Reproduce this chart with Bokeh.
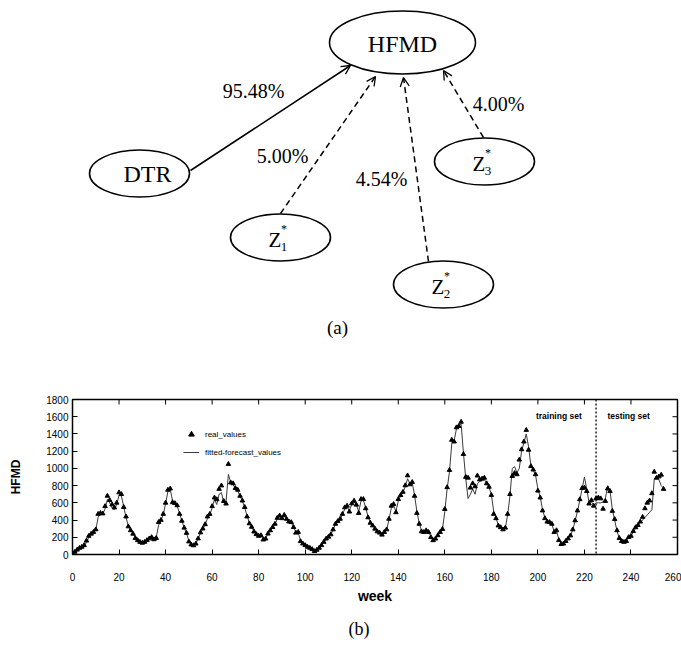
from bokeh.plotting import figure
from bokeh.models import (Arrow, OpenHead, Label, Span, Legend, LegendItem,
                          FixedTicker, Range1d, Title)
from bokeh.layouts import column
from bokeh.embed import file_html
from bokeh.resources import INLINE
from bokeh.core.properties import value

# ---------------- data ----------------
node_names = ["HFMD", "DTR", "Z", "Z", "Z"]
z_subscripts = ["1", "2", "3"]
edge_labels = ["95.48%", "5.00%", "4.54%", "4.00%"]

real_values = [
    10, 30, 55, 75, 88, 107, 160, 215, 240, 260,
    290, 470, 480, 475, 560, 680, 630, 580, 545, 600,
    720, 700, 550, 440, 325, 280, 240, 190, 165, 145,
    135, 145, 165, 185, 200, 175, 190, 375, 400, 470,
    600, 750, 765, 605, 595, 570, 470, 390, 310, 250,
    150, 115, 105, 125, 185, 255, 300, 350, 440, 470,
    560, 660, 640, 760, 800, 620, 590, 1050, 835, 825,
    770, 750, 680, 625, 550, 440, 360, 320, 265, 235,
    215, 222, 172, 183, 241, 279, 317, 355, 424, 451,
    420, 458, 413, 382, 374, 317, 252, 260, 153, 126,
    107, 88, 76, 61, 38, 53, 76, 107, 145, 183,
    205, 233, 290, 355, 386, 413, 470, 546, 565, 497,
    592, 623, 577, 481, 642, 642, 535, 430, 367, 336,
    298, 267, 252, 229, 260, 290, 413, 565, 584, 489,
    642, 688, 726, 802, 917, 813, 840, 680, 481, 355,
    267, 260, 279, 260, 200, 164, 183, 222, 260, 295,
    527, 780, 980, 1330, 1310, 1475, 1490, 1540, 1165, 900,
    890, 775, 825, 790, 915, 870, 880, 890, 825, 785,
    690, 470, 420, 335, 315, 290, 310, 470, 700, 910,
    945, 930, 1100, 1220, 1310, 1445, 1215, 1025, 985, 930,
    740, 660, 510, 420, 380, 375, 355, 260, 280, 165,
    120, 125, 155, 185, 220, 290, 395, 510, 640, 770,
    775, 735, 590, 630, 565, 650, 660, 650, 530, 620,
    765, 735, 505, 410, 280, 190, 155, 145, 155, 200,
    215, 270, 315, 340, 380, 435, 535, 600, 625, 710,
    960, 890, 905, 925, 760,
]

fitted_values = [
    5, 20, 40, 65, 80, 100, 140, 200, 235, 255,
    280, 430, 480, 470, 530, 640, 600, 540, 520, 580,
    690, 680, 560, 430, 330, 285, 245, 195, 170, 150,
    140, 148, 165, 180, 195, 180, 200, 340, 395, 460,
    590, 730, 760, 620, 590, 560, 480, 390, 310, 245,
    160, 120, 110, 130, 180, 250, 295, 345, 420, 460,
    540, 640, 580, 700, 720, 600, 620, 930, 840, 810,
    770, 740, 680, 620, 545, 450, 370, 320, 270, 235,
    215, 215, 185, 190, 235, 275, 315, 350, 410, 440,
    425, 440, 415, 385, 370, 320, 260, 250, 165, 130,
    110, 90, 78, 62, 45, 55, 75, 105, 140, 180,
    205, 235, 285, 350, 380, 410, 460, 530, 555, 510,
    580, 610, 575, 500, 620, 630, 545, 440, 375, 335,
    300, 270, 255, 235, 255, 290, 400, 540, 570, 500,
    620, 680, 720, 790, 880, 820, 830, 690, 500, 365,
    275, 262, 275, 262, 210, 170, 185, 220, 258, 290,
    500, 760, 960, 1290, 1320, 1460, 1490, 1520, 1180, 880,
    650, 700, 760, 700, 820, 850, 860, 870, 830, 780,
    700, 500, 420, 345, 318, 295, 305, 460, 680, 1000,
    1020, 950, 1000, 1200, 1300, 1400, 1250, 1030, 980, 920,
    760, 670, 520, 425, 385, 375, 350, 270, 275, 175,
    130, 128, 155, 185, 220, 285, 390, 500, 630, 760,
    900, 760, 600, 610, 570, 600, 600, 600, 610, 650,
    800, 740, 520, 400, 270, 190, 170, 160, 165, 195,
    215, 260, 305, 340, 370, 400, 430, 460, 490, 520,
    870, 905, 870, 800, 770,
]

weeks = list(range(len(real_values)))
x_tick_values = [0, 20, 40, 60, 80, 100, 120, 140, 160, 180, 200, 220, 240, 260]
y_tick_values = [0, 200, 400, 600, 800, 1000, 1200, 1400, 1600, 1800]
split_week = 225

# ---------------- layout constants ----------------
SERIF = value("Liberation Serif")
PAGE_W = 681
BL, BR = 72, 4          # shared left/right borders -> identical frames
H1 = 352                # diagram panel height
H2 = 296                # chart panel height

def P(X, Y):
    """page pixel -> diagram data coords"""
    return X, H1 - Y

# ellipse centres / sizes (page px)
ell_cx = [402, 139, 280, 443, 484]
ell_cy = [42, 173, 237, 284, 161]
ell_w = [146, 100, 100, 100, 100]
ell_h = [63, 47, 47, 47, 47]

p1 = figure(width=PAGE_W, height=H1, x_range=Range1d(BL, PAGE_W - BR), y_range=Range1d(0, H1),
            x_axis_location=None, y_axis_location=None,
            output_backend="svg", toolbar_location=None,
            min_border_left=BL, min_border_right=BR, min_border_top=0, min_border_bottom=0)
p1.grid.visible = False
p1.outline_line_color = None

ex = [P(x, y)[0] for x, y in zip(ell_cx, ell_cy)]
ey = [P(x, y)[1] for x, y in zip(ell_cx, ell_cy)]
p1.ellipse(x=ex, y=ey, width=ell_w, height=ell_h, fill_color="white",
           line_color="black", line_width=1.6)

big_x = [P(402, 43)[0], P(147, 173)[0]]
big_y = [P(402, 43)[1], P(147, 173)[1]]
p1.text(x=big_x, y=big_y, text=node_names[:2], text_font=SERIF, text_font_size="24px",
        text_align="center", text_baseline="middle", text_color="black")

for i in range(3):
    cx, cy = ell_cx[2 + i], ell_cy[2 + i]
    zx, zy = P(cx - 5.5, cy + 2)
    sx, sy = P(cx + 3.5, cy - 8.5)
    bx, by = P(cx + 3.5, cy + 9.5)
    p1.text(x=[zx], y=[zy], text=[node_names[2 + i]], text_font=SERIF, text_font_size="21px",
            text_align="center", text_baseline="middle", text_color="black")
    p1.text(x=[sx], y=[sy], text=["*"], text_font=SERIF, text_font_size="12px",
            text_align="center", text_baseline="middle", text_color="black")
    p1.text(x=[bx], y=[by], text=[z_subscripts[i]], text_font=SERIF, text_font_size="13px",
            text_align="center", text_baseline="middle", text_color="black")

arrows = [((190, 170), (350, 65), "solid"),
          ((280, 213), (375, 76), "6 4"),
          ((428, 261), (403, 77), "6 4"),
          ((483, 137), (443, 70), "6 4")]
for (s, e, dash) in arrows:
    xs, ys = P(*s)
    xe, ye = P(*e)
    p1.add_layout(Arrow(end=OpenHead(size=9, line_width=1.3, line_color="black"),
                        x_start=xs, y_start=ys, x_end=xe, y_end=ye,
                        line_width=1.5, line_color="black", line_dash=dash))

lab_pos = [(253, 90), (282, 155), (381, 178), (498, 103)]
p1.text(x=[P(*q)[0] for q in lab_pos], y=[P(*q)[1] for q in lab_pos], text=edge_labels,
        text_font=SERIF, text_font_size="20px", text_align="center",
        text_baseline="middle", text_color="black")

ax, ay = P(337, 327)
p1.text(x=[ax], y=[ay], text=["(a)"], text_font=SERIF, text_font_size="19px",
        text_align="center", text_baseline="middle", text_color="black")

# ---------------- chart (b) ----------------
FRAME_TOP, FRAME_BOTTOM = 399, 555
p2 = figure(width=PAGE_W, height=H2, x_range=Range1d(0, 260), y_range=Range1d(0, 1800),
            output_backend="svg", toolbar_location=None,
            min_border_left=BL, min_border_right=BR,
            min_border_top=FRAME_TOP - H1, min_border_bottom=H1 + H2 - FRAME_BOTTOM)
p2.grid.visible = False
p2.outline_line_color = "black"
p2.outline_line_width = 1.5

for ax_ in (p2.xaxis[0], p2.yaxis[0]):
    ax_.major_tick_in = 5
    ax_.major_tick_out = 0
    ax_.minor_tick_in = 0
    ax_.minor_tick_out = 0
    ax_.axis_line_color = None
    ax_.major_tick_line_color = "black"
    ax_.major_label_text_font = "Liberation Sans"
    ax_.major_label_text_font_size = "10px"
    ax_.major_label_text_color = "black"
    ax_.axis_label_text_font = "Liberation Sans"
    ax_.axis_label_text_font_style = "bold"
    ax_.axis_label_text_color = "black"

p2.xaxis[0].ticker = FixedTicker(ticks=x_tick_values)
p2.yaxis[0].ticker = FixedTicker(ticks=y_tick_values)
p2.xaxis[0].axis_label = "week"
p2.xaxis[0].axis_label_text_font_size = "14px"
p2.xaxis[0].major_label_standoff = 18
p2.xaxis[0].axis_label_standoff = 4
p2.yaxis[0].axis_label = "HFMD"
p2.yaxis[0].axis_label_text_font_size = "12px"
p2.yaxis[0].major_label_standoff = 4
p2.yaxis[0].axis_label_standoff = 20

# inward ticks on the top and right frame edges
tick_dy = 5 * 1800 / (FRAME_BOTTOM - FRAME_TOP)
tick_dx = 5 * 260 / (PAGE_W - BL - BR)
p2.segment(x0=x_tick_values, y0=[1800] * len(x_tick_values), x1=x_tick_values,
           y1=[1800 - tick_dy] * len(x_tick_values), line_color="black", line_width=1)
p2.segment(x0=[260] * len(y_tick_values), y0=y_tick_values, x1=[260 - tick_dx] * len(y_tick_values),
           y1=y_tick_values, line_color="black", line_width=1)

ln = p2.line(weeks, fitted_values, line_color="#3a3a3a", line_width=1)
tri = p2.scatter(weeks, real_values, marker="triangle", size=4.5,
                 fill_color="black", line_color="black")

p2.add_layout(Span(location=split_week, dimension="height", line_color="black",
                   line_dash="2 2", line_width=1.3))

p2.add_layout(Label(x=209, y=1605, text="training set", text_align="center",
                    text_baseline="middle", text_font="Liberation Sans", text_font_size="8.5px",
                    text_font_style="bold", text_color="black"))
p2.add_layout(Label(x=239, y=1605, text="testing set", text_align="center",
                    text_baseline="middle", text_font="Liberation Sans", text_font_size="8.5px",
                    text_font_style="bold", text_color="black"))

legend = Legend(items=[LegendItem(label="real_values", renderers=[tri]),
                       LegendItem(label="fitted-forecast_values", renderers=[ln])],
                location=(111, 95), border_line_color=None, background_fill_alpha=0,
                padding=0, margin=0, spacing=4, glyph_width=16, glyph_height=14,
                label_height=14, label_standoff=6, label_text_font="Liberation Sans",
                label_text_font_size="8px", label_text_color="black")
p2.add_layout(legend)

p2.add_layout(Title(text="(b)", align="left", offset=276, standoff=20,
                    text_font="Liberation Serif", text_font_size="18px",
                    text_font_style="normal", text_color="black"), "below")

layout = column(p1, p2, spacing=0)
open("out.html", "w").write(file_html(layout, INLINE))
